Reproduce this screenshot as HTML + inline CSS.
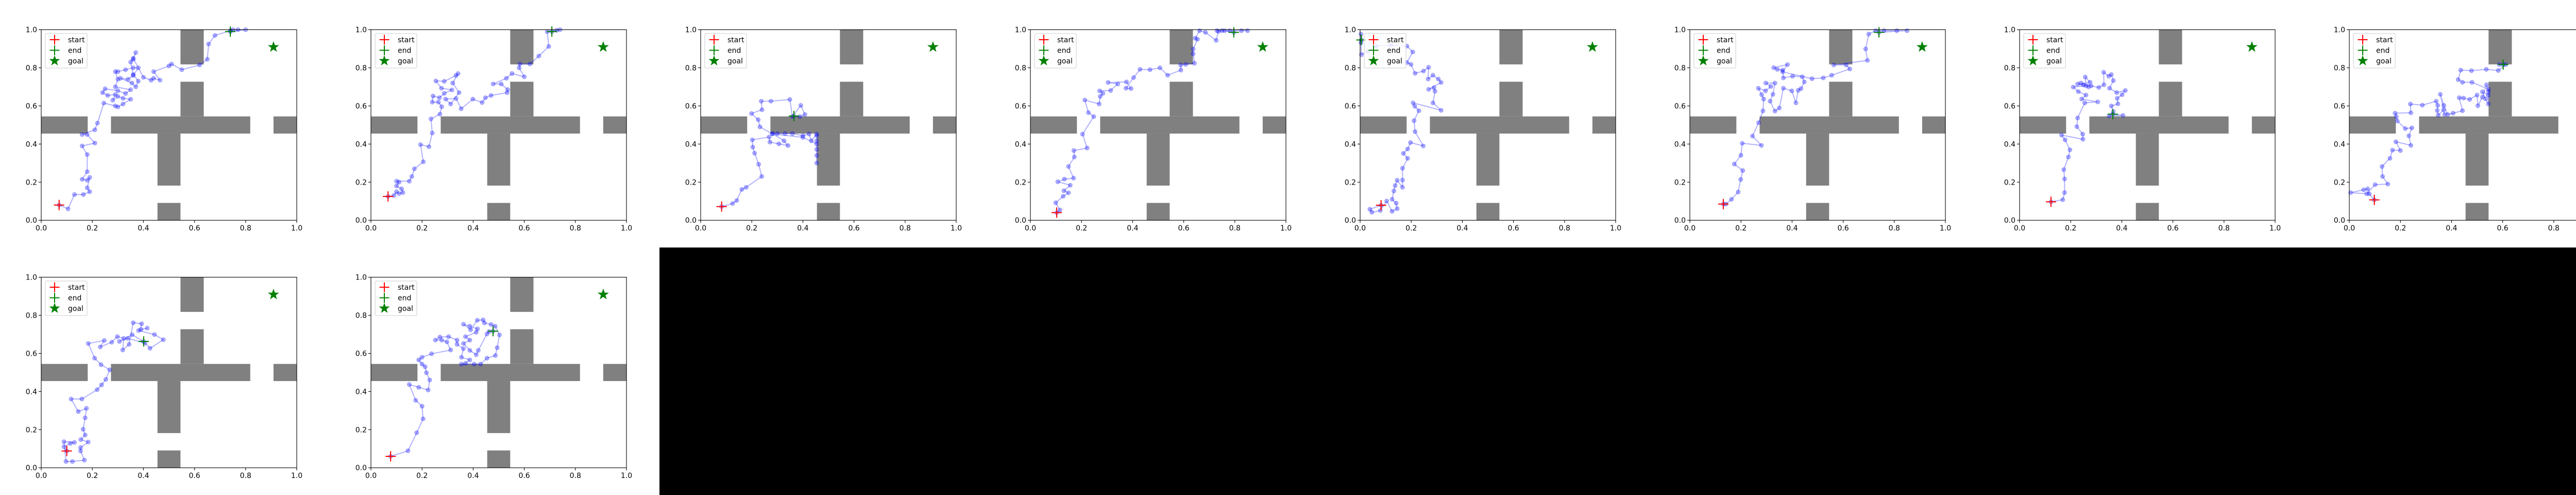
<!DOCTYPE html>
<html><head><meta charset="utf-8"><title>Trajectories</title>
<style>
html,body{margin:0;padding:0;background:#fff;}
svg{display:block;}
text{font-family:"DejaVu Sans","Liberation Sans",sans-serif;}
</style></head>
<body>
<svg id="fig" width="5120" height="960" viewBox="0 0 5120 960" xmlns="http://www.w3.org/2000/svg">
<rect x="0" y="0" width="5120" height="960" fill="#fff"/>
<rect x="1280" y="480" width="3840" height="480" fill="#000"/>
</svg>
<script>
const tickValues = [0, 0.2, 0.4, 0.6, 0.8, 1.0];
const tickLabels = ["0.0", "0.2", "0.4", "0.6", "0.8", "1.0"];
const goalPoint = [0.909, 0.909];
const obstacles = [
  [0, 0.455, 0.182, 0.545], [0.273, 0.455, 0.818, 0.545], [0.909, 0.455, 1.0, 0.545],
  [0.545, 0.818, 0.636, 1.0], [0.545, 0.545, 0.636, 0.727],
  [0.455, 0.182, 0.545, 0.455], [0.455, 0, 0.545, 0.091]
];
const legendLabels = ["start", "end", "goal"];

const traj1X = [0.07,0.105,0.13,0.165,0.19,0.18,0.19,0.18,0.16,0.18,0.18,0.16,0.21,0.18,0.16,0.21,0.22,0.245,0.29,0.30,0.32,0.35,0.32,0.30,0.28,0.29,0.26,0.24,0.25,0.30,0.33,0.35,0.29,0.30,0.29,0.30,0.33,0.36,0.38,0.36,0.34,0.31,0.355,0.37,0.38,0.36,0.35,0.36,0.37,0.36,0.40,0.43,0.44,0.465,0.44,0.50,0.51,0.55,0.62,0.65,0.655,0.68,0.74,0.75,0.77,0.80,0.74];
const traj1Y = [0.08,0.06,0.135,0.135,0.15,0.17,0.225,0.21,0.215,0.255,0.345,0.39,0.405,0.45,0.45,0.475,0.51,0.615,0.60,0.595,0.61,0.635,0.64,0.65,0.63,0.66,0.655,0.67,0.69,0.68,0.665,0.685,0.70,0.74,0.78,0.78,0.79,0.80,0.80,0.76,0.74,0.745,0.72,0.70,0.73,0.765,0.83,0.845,0.88,0.85,0.75,0.735,0.745,0.735,0.78,0.81,0.82,0.79,0.815,0.845,0.925,0.97,0.995,1.0,1.0,1.0,0.99];
const traj2X = [0.067,0.09,0.10,0.11,0.125,0.12,0.10,0.11,0.10,0.15,0.16,0.17,0.205,0.194,0.227,0.24,0.235,0.27,0.277,0.264,0.24,0.243,0.268,0.287,0.317,0.276,0.254,0.287,0.333,0.341,0.32,0.345,0.312,0.292,0.333,0.353,0.399,0.435,0.448,0.47,0.533,0.535,0.51,0.478,0.53,0.552,0.6,0.58,0.583,0.622,0.657,0.696,0.69,0.727,0.74,0.708];
const traj2Y = [0.125,0.13,0.15,0.14,0.145,0.165,0.18,0.2,0.205,0.205,0.23,0.27,0.307,0.397,0.386,0.458,0.532,0.557,0.596,0.62,0.62,0.652,0.643,0.666,0.684,0.693,0.731,0.729,0.76,0.77,0.72,0.67,0.61,0.636,0.639,0.585,0.636,0.618,0.643,0.655,0.67,0.686,0.715,0.715,0.745,0.77,0.753,0.8,0.82,0.82,0.862,0.912,0.99,0.997,1.0,0.99];
const traj3X = [0.082,0.125,0.141,0.161,0.178,0.239,0.227,0.211,0.204,0.202,0.268,0.271,0.306,0.342,0.326,0.281,0.30,0.33,0.359,0.4,0.424,0.433,0.454,0.454,0.454,0.454,0.454,0.454,0.454,0.4,0.281,0.232,0.225,0.199,0.24,0.237,0.275,0.349,0.359,0.392,0.408,0.388,0.365];
const traj3Y = [0.072,0.088,0.104,0.162,0.173,0.23,0.294,0.352,0.384,0.422,0.437,0.41,0.401,0.392,0.417,0.455,0.455,0.455,0.455,0.444,0.453,0.417,0.453,0.372,0.3,0.34,0.417,0.444,0.40,0.435,0.453,0.49,0.528,0.56,0.58,0.625,0.625,0.634,0.544,0.603,0.555,0.544,0.547];
const traj4X = [0.103,0.116,0.099,0.128,0.149,0.131,0.156,0.107,0.133,0.169,0.149,0.172,0.17,0.222,0.204,0.248,0.227,0.213,0.269,0.273,0.284,0.271,0.314,0.342,0.304,0.376,0.394,0.374,0.404,0.429,0.468,0.507,0.537,0.589,0.588,0.608,0.642,0.637,0.637,0.654,0.645,0.662,0.685,0.727,0.736,0.76,0.73,0.78,0.826,0.85,0.75,0.796];
const traj4Y = [0.04,0.054,0.092,0.126,0.144,0.155,0.184,0.202,0.216,0.221,0.282,0.332,0.366,0.379,0.452,0.544,0.565,0.631,0.61,0.65,0.666,0.679,0.681,0.715,0.723,0.726,0.691,0.693,0.749,0.792,0.79,0.8,0.761,0.788,0.815,0.818,0.824,0.874,0.899,0.95,0.955,0.995,0.986,0.944,0.991,0.995,0.995,0.995,0.995,0.995,0.995,0.986];
const traj5X = [0.082,0.038,0.046,0.079,0.104,0.125,0.145,0.141,0.125,0.132,0.137,0.145,0.166,0.166,0.166,0.186,0.169,0.186,0.197,0.247,0.215,0.211,0.23,0.214,0.207,0.317,0.285,0.293,0.289,0.268,0.317,0.306,0.285,0.266,0.268,0.248,0.215,0.199,0.183,0.206,0.183,0.12,0.063,0.03,0.005,0.003,0.003,0.005];
const traj5Y = [0.079,0.058,0.042,0.051,0.101,0.047,0.061,0.09,0.11,0.154,0.182,0.21,0.173,0.211,0.273,0.325,0.351,0.374,0.408,0.39,0.465,0.523,0.575,0.598,0.616,0.577,0.616,0.677,0.696,0.687,0.723,0.741,0.761,0.741,0.803,0.783,0.771,0.818,0.828,0.883,0.914,0.919,0.914,0.887,0.869,0.932,0.977,0.946];
const traj6X = [0.131,0.141,0.163,0.189,0.199,0.207,0.174,0.2,0.205,0.28,0.245,0.269,0.286,0.289,0.281,0.268,0.296,0.317,0.297,0.333,0.325,0.314,0.333,0.35,0.366,0.399,0.415,0.424,0.435,0.448,0.44,0.402,0.366,0.363,0.342,0.328,0.382,0.363,0.478,0.522,0.555,0.626,0.612,0.563,0.695,0.688,0.7,0.727,0.76,0.81,0.85,0.74];
const traj6Y = [0.085,0.085,0.11,0.148,0.214,0.261,0.295,0.341,0.404,0.393,0.442,0.512,0.574,0.636,0.659,0.693,0.679,0.702,0.72,0.72,0.661,0.625,0.573,0.589,0.693,0.679,0.616,0.682,0.691,0.726,0.753,0.756,0.747,0.788,0.792,0.801,0.817,0.779,0.743,0.747,0.761,0.794,0.815,0.815,0.839,0.899,0.977,0.995,0.995,0.995,0.995,0.986];
const traj7X = [0.123,0.169,0.176,0.176,0.173,0.191,0.197,0.178,0.164,0.248,0.247,0.224,0.227,0.255,0.306,0.243,0.26,0.23,0.21,0.26,0.257,0.276,0.227,0.25,0.27,0.24,0.28,0.31,0.33,0.329,0.349,0.359,0.367,0.352,0.38,0.414,0.401,0.382,0.385,0.359,0.367,0.35,0.405,0.365];
const traj7Y = [0.097,0.108,0.145,0.217,0.266,0.332,0.37,0.422,0.447,0.425,0.452,0.491,0.537,0.616,0.621,0.636,0.657,0.675,0.699,0.706,0.752,0.724,0.715,0.71,0.70,0.72,0.705,0.697,0.711,0.777,0.756,0.765,0.733,0.693,0.67,0.681,0.659,0.64,0.611,0.6,0.571,0.548,0.55,0.557];
const traj8X = [0.098,0.078,0.072,0.056,0.005,0.068,0.101,0.151,0.13,0.128,0.159,0.169,0.2,0.182,0.241,0.233,0.245,0.219,0.188,0.184,0.179,0.241,0.239,0.286,0.34,0.346,0.344,0.348,0.369,0.373,0.356,0.37,0.385,0.406,0.443,0.43,0.447,0.471,0.5,0.503,0.521,0.537,0.544,0.544,0.533,0.521,0.544,0.545,0.48,0.443,0.426,0.436,0.478,0.536,0.583,0.612,0.587,0.602];
const traj8Y = [0.107,0.139,0.165,0.16,0.145,0.139,0.187,0.19,0.23,0.282,0.325,0.368,0.366,0.412,0.393,0.443,0.485,0.481,0.521,0.544,0.562,0.564,0.61,0.604,0.625,0.603,0.576,0.551,0.58,0.555,0.661,0.603,0.555,0.562,0.575,0.643,0.641,0.634,0.657,0.601,0.646,0.711,0.674,0.61,0.637,0.674,0.656,0.688,0.724,0.724,0.738,0.788,0.785,0.792,0.786,0.817,0.817,0.817];
const traj9X = [0.1,0.089,0.114,0.13,0.089,0.097,0.122,0.169,0.154,0.154,0.184,0.155,0.172,0.164,0.172,0.177,0.145,0.117,0.159,0.219,0.236,0.253,0.268,0.234,0.209,0.184,0.247,0.231,0.276,0.298,0.323,0.319,0.344,0.36,0.393,0.39,0.415,0.381,0.443,0.478,0.426,0.406,0.339,0.306,0.356,0.401];
const traj9Y = [0.088,0.11,0.128,0.133,0.137,0.033,0.033,0.04,0.088,0.106,0.135,0.148,0.172,0.202,0.262,0.312,0.295,0.361,0.361,0.41,0.435,0.464,0.514,0.541,0.575,0.652,0.668,0.634,0.659,0.688,0.679,0.618,0.648,0.761,0.756,0.726,0.733,0.72,0.699,0.672,0.627,0.654,0.679,0.663,0.698,0.663];
const traj10X = [0.077,0.145,0.179,0.204,0.2,0.175,0.15,0.187,0.224,0.23,0.217,0.212,0.2,0.187,0.2,0.237,0.312,0.297,0.277,0.252,0.27,0.304,0.337,0.337,0.362,0.354,0.387,0.37,0.354,0.404,0.429,0.454,0.487,0.494,0.503,0.486,0.47,0.444,0.439,0.416,0.39,0.362,0.387,0.417,0.412,0.37,0.387,0.362,0.387,0.412,0.42,0.454,0.462,0.478];
const traj10Y = [0.06,0.089,0.184,0.257,0.323,0.354,0.437,0.422,0.408,0.461,0.499,0.53,0.544,0.566,0.58,0.598,0.618,0.661,0.67,0.67,0.686,0.688,0.67,0.648,0.625,0.58,0.566,0.548,0.544,0.544,0.544,0.575,0.589,0.63,0.697,0.743,0.752,0.76,0.776,0.774,0.724,0.753,0.743,0.729,0.711,0.688,0.67,0.652,0.616,0.593,0.616,0.702,0.715,0.717];

const trajX = [traj1X,traj2X,traj3X,traj4X,traj5X,traj6X,traj7X,traj8X,traj9X,traj10X];
const trajY = [traj1Y,traj2Y,traj3Y,traj4Y,traj5Y,traj6Y,traj7Y,traj8Y,traj9Y,traj10Y];

const NS = "http://www.w3.org/2000/svg";
const fig = document.getElementById("fig");
const AX_L = 80, AX_R = 576, AX_T = 57.6, AX_B = 427.2;
function sx(v){ return AX_L + v*(AX_R-AX_L); }
function sy(v){ return AX_B - v*(AX_B-AX_T); }
function mk(tag, attrs, parent){
  const e = document.createElementNS(NS, tag);
  for (const k in attrs) e.setAttribute(k, attrs[k]);
  parent.appendChild(e);
  return e;
}
function plus(g, x, y, color, size){
  const p = mk("path", {d:`M${x-size/2},${y}H${x+size/2}M${x},${y-size/2}V${y+size/2}`, stroke:color, "stroke-width":2, fill:"none"}, g);
  return p;
}
function star(g, x, y, r, color){
  let d = "";
  for (let i=0;i<10;i++){
    const rr = i%2===0 ? r : r*0.4;
    const a = -Math.PI/2 + i*Math.PI/5;
    d += (i===0?"M":"L") + (x+rr*Math.cos(a)).toFixed(2) + "," + (y+rr*Math.sin(a)).toFixed(2);
  }
  return mk("path", {d:d+"Z", fill:color, stroke:color, "stroke-width":1}, g);
}

for (let k=0;k<trajX.length;k++){
  const col = k % 8, row = Math.floor(k/8);
  const g = mk("g", {transform:`translate(${col*640},${row*480})`}, fig);
  
  
  const bg = mk("rect", {x:AX_L, y:AX_T, width:AX_R-AX_L, height:AX_B-AX_T, fill:"#fff"}, g);
  
  
  for (const o of obstacles){
    const r = mk("rect", {x:sx(o[0]), y:sy(o[3]), width:sx(o[2])-sx(o[0]), height:sy(o[1])-sy(o[3]), fill:"#808080"}, g);
    
    
  }
  const xs = trajX[k], ys = trajY[k];
  let d = "";
  for (let i=0;i<xs.length;i++) d += (i?"L":"M") + sx(xs[i]).toFixed(1) + "," + sy(ys[i]).toFixed(1);
  const line = mk("path", {d:d, fill:"none", stroke:"#0000ff", "stroke-opacity":0.3, "stroke-width":2, "stroke-linejoin":"round"}, g);
  
  
  for (let i=0;i<xs.length;i++){
    const c = mk("circle", {cx:sx(xs[i]), cy:sy(ys[i]), r:4, fill:"#0000ff", "fill-opacity":0.3, stroke:"#0000ff", "stroke-opacity":0.3, "stroke-width":1}, g);
    
    
  }
  const sm = plus(g, sx(xs[0]), sy(ys[0]), "#ff0000", 20);
  
  
  const em = plus(g, sx(xs[xs.length-1]), sy(ys[ys.length-1]), "#008000", 20);
  
  
  const gm = star(g, sx(goalPoint[0]), sy(goalPoint[1]), 10, "#008000");
  
  
  // spines
  const sp = mk("rect", {x:AX_L, y:AX_T, width:AX_R-AX_L, height:AX_B-AX_T, fill:"none", stroke:"#000", "stroke-width":1.1}, g);
  
  
  for (let t=0;t<tickValues.length;t++){
    const v = tickValues[t];
    mk("line", {x1:sx(v), x2:sx(v), y1:AX_B, y2:AX_B+5, stroke:"#000", "stroke-width":1.1}, g);
    const xl = mk("text", {x:sx(v), y:AX_B+20, "font-size":14, "text-anchor":"middle", fill:"#000"}, g);
    xl.textContent = tickLabels[t];
    
    
    mk("line", {x1:AX_L-5, x2:AX_L, y1:sy(v), y2:sy(v), stroke:"#000", "stroke-width":1.1}, g);
    const yl = mk("text", {x:AX_L-8, y:sy(v)+5, "font-size":14, "text-anchor":"end", fill:"#000"}, g);
    yl.textContent = tickLabels[t];
    
    
  }
  // legend
  const lg = mk("g", {}, g);
  
  
  mk("rect", {x:88, y:65, width:81, height:67, rx:2, fill:"#fff", "fill-opacity":0.8, stroke:"#cccccc", "stroke-width":1}, lg);
  const ly = [77, 97.5, 118];
  plus(lg, 106, ly[0], "#ff0000", 19);
  plus(lg, 106, ly[1], "#008000", 19);
  star(lg, 106, ly[2], 9.5, "#008000");
  for (let i=0;i<3;i++){
    const t = mk("text", {x:132, y:ly[i]+5, "font-size":14, fill:"#000"}, lg);
    t.textContent = legendLabels[i];
    
    
  }
}
</script>
</body></html>
